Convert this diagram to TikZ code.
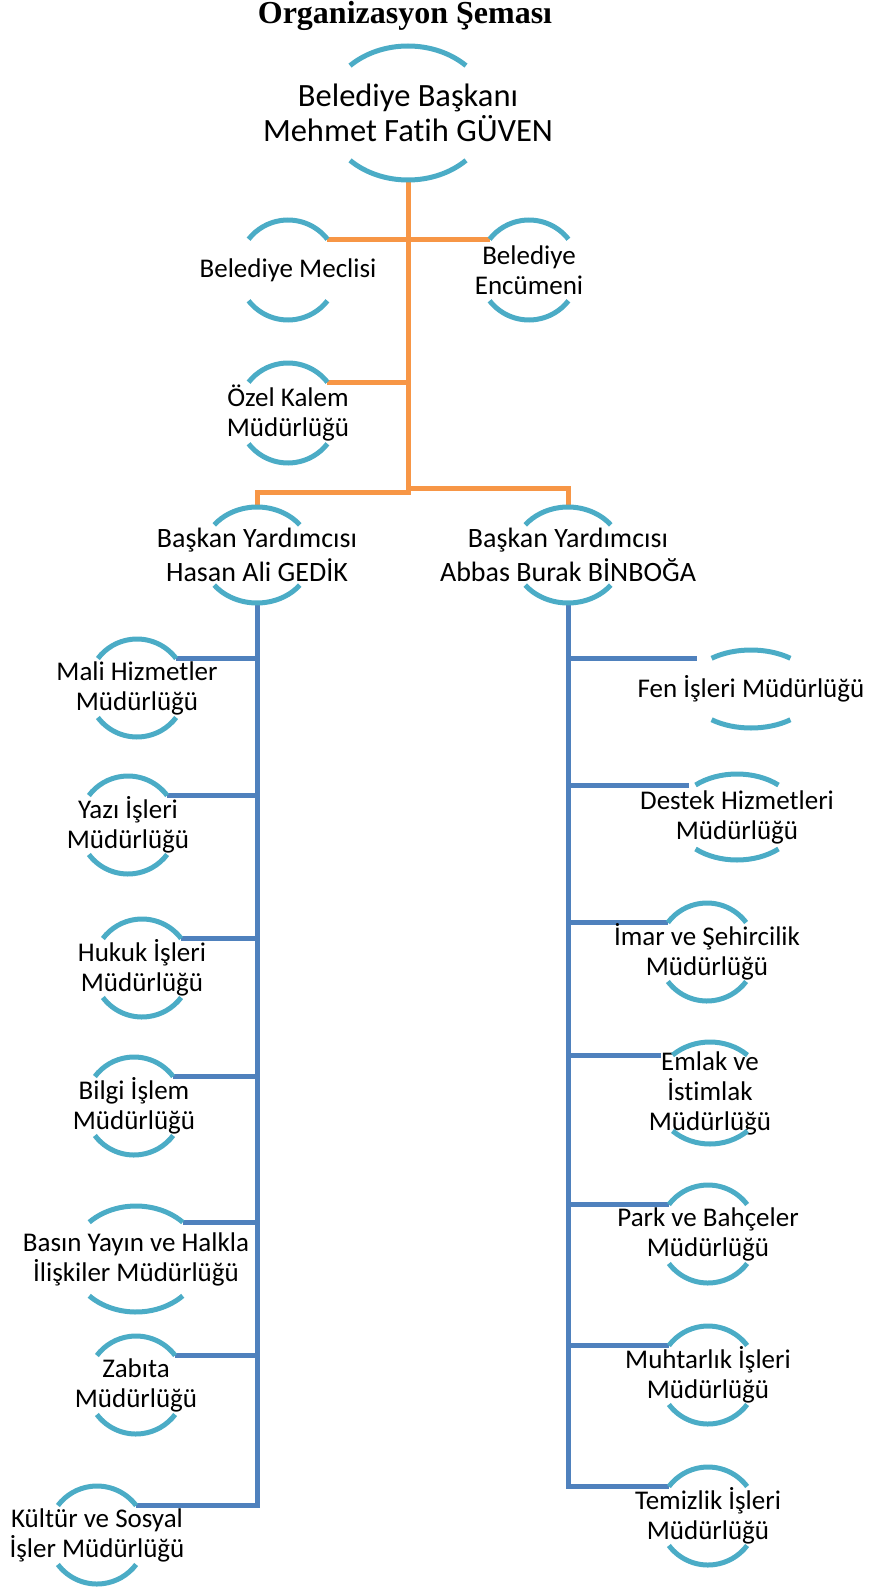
\documentclass[tikz,border=0pt]{standalone}
\usepackage{fontspec}
\setmainfont{Carlito}[Ligatures=NoCommon]
\newfontfamily\baslikfont{Liberation Serif}
\usetikzlibrary{backgrounds, calc}

\definecolor{acikmavi}{HTML}{4BACC6}
\definecolor{turuncu}{HTML}{F79646}
\definecolor{koyumavi}{HTML}{4F81BD}

\begin{document}
\begin{tikzpicture}[x=1pt, y=1pt,
    birim/.style={align=center, inner sep=0pt, font=\fontsize{27}{30}\selectfont},
    ust/.style={align=center, inner sep=0pt, font=\fontsize{32.5}{35}\selectfont},
    yardimci/.style={align=center, inner sep=0pt, font=\fontsize{28}{34}\selectfont},
    yay/.style={draw=acikmavi, line width=5pt},
    ustbag/.style={draw=turuncu, line width=5pt},
    altbag/.style={draw=koyumavi, line width=5pt}]
  \useasboundingbox (0,0) rectangle (871,-1589);

  \node[anchor=base, font=\baslikfont\bfseries\fontsize{32}{36}\selectfont] (baslik) at (405,-24) {Organizasyon Şeması};

  % baskan ve bagli birimler
  \node[ust]      (baskan)  at (408,-113) {Belediye Başkanı\\Mehmet Fatih GÜVEN};
  \node[birim]    (meclis)  at (288,-270) {Belediye Meclisi};
  \node[birim]    (encumen) at (529,-270) {Belediye\\Encümeni};
  \node[birim]    (ozel)    at (288,-413) {Özel Kalem\\Müdürlüğü};
  \node[yardimci] (yrd1)    at (257,-555) {Başkan Yardımcısı\\Hasan Ali GEDİK};
  \node[yardimci] (yrd2)    at (568,-555) {Başkan Yardımcısı\\Abbas Burak BİNBOĞA};

  % sol kol
  \node[birim] (mali)   at (137,-688)  {Mali Hizmetler\\Müdürlüğü};
  \node[birim] (yazi)   at (128,-825)  {Yazı İşleri\\Müdürlüğü};
  \node[birim] (hukuk)  at (142,-968)  {Hukuk İşleri\\Müdürlüğü};
  \node[birim] (bilgi)  at (134,-1106) {Bilgi İşlem\\Müdürlüğü};
  \node[birim] (basin)  at (136,-1259) {Basın Yayın ve Halkla\\İlişkiler Müdürlüğü};
  \node[birim] (zabita) at (136,-1385) {Zabıta\\Müdürlüğü};
  \node[birim] (kultur) at (97,-1535)  {Kültür ve Sosyal\\İşler Müdürlüğü};

  % sag kol
  \node[birim] (fen)      at (751,-689)  {Fen İşleri Müdürlüğü};
  \node[birim] (destek)   at (737,-817)  {Destek Hizmetleri\\Müdürlüğü};
  \node[birim] (imar)     at (707,-952)  {İmar ve Şehircilik\\Müdürlüğü};
  \node[birim] (emlak)    at (710,-1093) {Emlak ve\\İstimlak\\Müdürlüğü};
  \node[birim] (park)     at (708,-1234) {Park ve Bahçeler\\Müdürlüğü};
  \node[birim] (muhtar)   at (708,-1375) {Muhtarlık İşleri\\Müdürlüğü};
  \node[birim] (temizlik) at (708,-1516) {Temizlik İşleri\\Müdürlüğü};

  % yaylar
  \foreach \n/\rx/\ry/\t in {baskan/82/67/45, meclis/50/50/38, encumen/50/50/38,
      ozel/50/50/38, yrd1/55/48/39, yrd2/55/48/39, mali/49/49/37, yazi/49/49/37,
      hukuk/49/49/37, bilgi/49/49/37, basin/65/53/44, zabita/49/49/37,
      kultur/49/49/37, fen/64/39/52, destek/62/43/48, imar/49/49/37,
      emlak/56/51/48, park/49/49/37, muhtar/49/49/37, temizlik/49/49/37} {
    \pgfmathsetmacro\u{180-\t}
    \pgfmathsetmacro\v{180+\t}
    \pgfmathsetmacro\w{360-\t}
    \draw[yay] (\n.center) ++(\t:\rx pt and \ry pt) coordinate (\n-ne)
      arc[start angle=\t, end angle=\u, x radius=\rx pt, y radius=\ry pt] coordinate (\n-nw);
    \draw[yay] (\n.center) ++(\v:\rx pt and \ry pt)
      arc[start angle=\v, end angle=\w, x radius=\rx pt, y radius=\ry pt];
    \coordinate (\n-n) at ($(\n.center)+(0,\ry)$);
    \coordinate (\n-s) at ($(\n.center)+(0,-\ry)$);
  }

  % baglantilar
  \begin{scope}[on background layer]
    \coordinate (kavsak)  at (408,-492);
    \coordinate (kavsak2) at (408,-488);
    \draw[ustbag] (baskan-s) -- (kavsak) -| (yrd1-n);
    \draw[ustbag] (kavsak2) -| (yrd2-n);
    \draw[ustbag] (meclis-ne) -- (encumen-nw);
    \draw[ustbag] (ozel-ne) -- (ozel-ne -| kavsak);

    \draw[altbag] (yrd1-s) |- (kultur-ne);
    \foreach \n in {mali, yazi, hukuk, bilgi, basin, zabita}
      \draw[altbag] (\n-ne) -- (\n-ne -| yrd1-s);

    \draw[altbag] (yrd2-s) |- (temizlik-nw);
    \foreach \n/\s in {fen/15, destek/7, imar/0, emlak/12, park/0, muhtar/0}
      \draw[altbag] (\n-nw -| yrd2-s) -- ([xshift=-\s pt]\n-nw);
  \end{scope}
\end{tikzpicture}
\end{document}
